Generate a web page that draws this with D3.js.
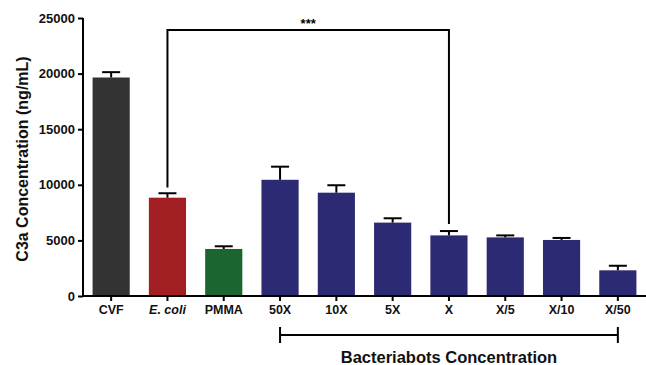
<!DOCTYPE html>
<html>
<head>
<meta charset="utf-8">
<script src="https://cdn.jsdelivr.net/npm/d3@7"></script>
<style>
  body { margin: 0; background: #fff; }
  svg { display: block; font-family: "Liberation Sans", Arial, sans-serif; }
</style>
</head>
<body>
<svg id="chart" width="646" height="365"></svg>
<script>
const categories = ["CVF", "E. coli", "PMMA", "50X", "10X", "5X", "X", "X/5", "X/10", "X/50"]
const means = [19650, 8840, 4230, 10450, 9290, 6600, 5450, 5270, 5040, 2310]
const errors = [480, 400, 240, 1180, 670, 390, 390, 180, 180, 410]
const barColors = ["#333333", "#a11e23", "#1b6531", "#2b2a72", "#2b2a72", "#2b2a72", "#2b2a72", "#2b2a72", "#2b2a72", "#2b2a72"]
const yTicks = [0, 5000, 10000, 15000, 20000, 25000]

const svg = d3.select("#chart")
const plotLeft = 83, plotRight = 646, plotTop = 18, plotBottom = 296

const x = d3.scaleBand()
    .domain(categories)
    .range([plotLeft, plotRight])
    .paddingInner(0.34)
    .paddingOuter(0.17)

const y = d3.scaleLinear()
    .domain([0, 25000])
    .range([plotBottom, plotTop])

const data = categories.map((c, i) => ({name: c, mean: means[i], err: errors[i], color: barColors[i]}))

// bars
svg.append("g")
    .selectAll("rect")
    .data(data)
    .enter().append("rect")
    .attr("x", d => x(d.name))
    .attr("y", d => y(d.mean))
    .attr("width", x.bandwidth())
    .attr("height", d => y(0) - y(d.mean))
    .attr("fill", d => d.color)

// error bars (upper only)
const capW = 18
const eb = svg.append("g").attr("stroke", "#000").attr("stroke-width", 2)
eb.selectAll("line.v")
    .data(data)
    .enter().append("line")
    .attr("x1", d => x(d.name) + x.bandwidth() / 2)
    .attr("x2", d => x(d.name) + x.bandwidth() / 2)
    .attr("y1", d => y(d.mean))
    .attr("y2", d => y(d.mean + d.err))
eb.selectAll("line.cap")
    .data(data)
    .enter().append("line")
    .attr("x1", d => x(d.name) + x.bandwidth() / 2 - capW / 2)
    .attr("x2", d => x(d.name) + x.bandwidth() / 2 + capW / 2)
    .attr("y1", d => y(d.mean + d.err))
    .attr("y2", d => y(d.mean + d.err))

// axes
const yAxis = svg.append("g")
    .attr("transform", `translate(${plotLeft},0)`)
    .call(d3.axisLeft(y).tickValues(yTicks).tickSize(5).tickPadding(3).tickFormat(d3.format("d")))
const xAxis = svg.append("g")
    .attr("transform", `translate(0,${plotBottom})`)
    .call(d3.axisBottom(x).tickSize(5).tickPadding(4))

for (const ax of [yAxis, xAxis]) {
    ax.select(".domain").attr("stroke", "#000").attr("stroke-width", 2)
    ax.selectAll(".tick line").attr("stroke", "#000").attr("stroke-width", 2)
    ax.selectAll("text")
        .attr("fill", "#111")
        .style("font-family", "Liberation Sans, Arial, sans-serif")
        .style("font-weight", "bold")
}
yAxis.selectAll("text").style("font-size", "13px")
xAxis.selectAll("text").style("font-size", "12.5px")
yAxis.select(".domain").attr("d", `M0,${plotBottom}V${plotTop}`)
xAxis.select(".domain").attr("d", `M${plotLeft},0H${plotRight}`)
xAxis.selectAll(".tick text").style("font-style", d => d === "E. coli" ? "italic" : "normal")

// y title
svg.append("text")
    .attr("transform", `translate(28,${(plotTop + plotBottom) / 2 + 2}) rotate(-90)`)
    .attr("text-anchor", "middle")
    .style("font-size", "16px")
    .style("font-weight", "bold")
    .attr("fill", "#111")
    .text("C3a Concentration (ng/mL)")

// significance bracket E. coli -> X
const cx = name => x(name) + x.bandwidth() / 2
const bracketY = 30
svg.append("path")
    .attr("d", `M${cx("E. coli")},${y(9750)}V${bracketY}H${cx("X")}V${y(6480)}`)
    .attr("fill", "none")
    .attr("stroke", "#000")
    .attr("stroke-width", 2)
svg.append("text")
    .attr("x", (cx("E. coli") + cx("X")) / 2)
    .attr("y", bracketY - 2)
    .attr("text-anchor", "middle")
    .style("font-size", "13px")
    .style("font-weight", "bold")
    .text("***")

// group bracket under the bacteriabot bars
const gy = 335
svg.append("path")
    .attr("d", `M${cx("50X")},${gy - 8}V${gy + 8}M${cx("50X")},${gy}H${cx("X/50")}M${cx("X/50")},${gy - 8}V${gy + 8}`)
    .attr("fill", "none")
    .attr("stroke", "#000")
    .attr("stroke-width", 2)
svg.append("text")
    .attr("x", (cx("50X") + cx("X/50")) / 2)
    .attr("y", 363)
    .attr("text-anchor", "middle")
    .style("font-size", "16.5px")
    .style("font-weight", "bold")
    .attr("fill", "#111")
    .text("Bacteriabots Concentration")
</script>
</body>
</html>
